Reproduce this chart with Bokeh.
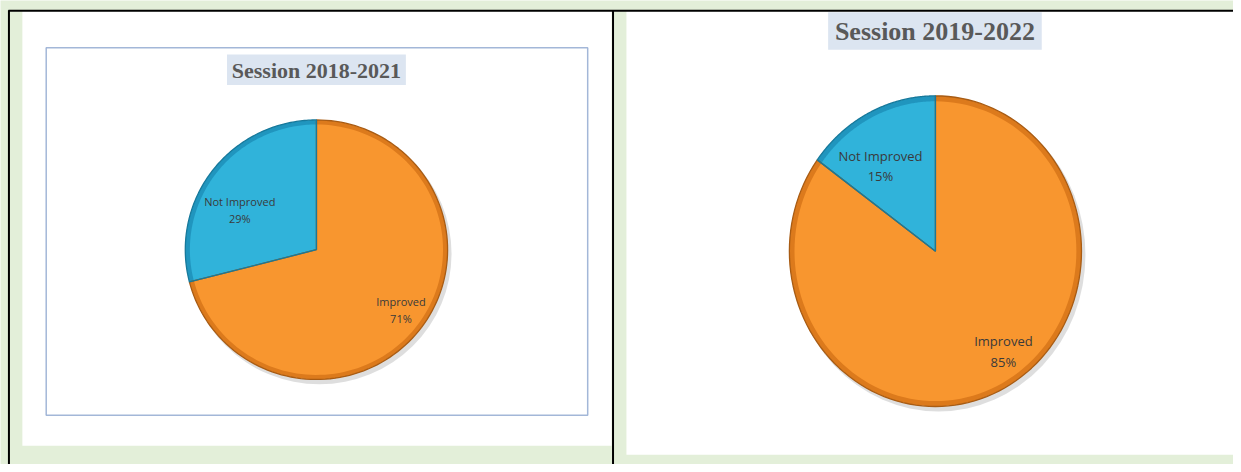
import numpy as np
from bokeh.plotting import figure
from bokeh.models import Range1d
from bokeh.core.properties import value
from bokeh.embed import file_html
from bokeh.resources import INLINE

# ---- data ----
categories = ["Improved", "Not Improved"]
titles = ["Session 2018-2021", "Session 2019-2022"]
values_2018 = [71, 29]
values_2019 = [85, 15]

# ---- layout: data units = reference pixels (x = px, y = 472 - py) ----
RW, RH = 1241, 472
GREEN = "#E3EFD9"
fills = ["#F8962F", "#30B3DA"]
rims = ["#DC7A1C", "#2095BE"]
edges = ["#A85C14", "#17799B"]

p = figure(width=1233, height=464, x_range=Range1d(0, RW), y_range=Range1d(0, RH),
           output_backend="svg", toolbar_location=None, min_border=0)
p.axis.visible = False
p.grid.visible = False
p.outline_line_color = None
p.background_fill_color = GREEN
p.border_fill_color = GREEN

# table cells
p.quad(left=[22, 630], right=[615, RW], bottom=[19, 10], top=[461, 461],
       fill_color="white", line_color=None)
# table lines
p.segment(x0=[8, 8.5, 616.5], y0=[461.5, 0, 0], x1=[RW, 8.5, 616.5], y1=[461.5, 462, 462],
          line_color="black", line_width=2)
# chart area border (left)
p.quad(left=[46], right=[591], bottom=[50], top=[424], fill_color=None,
       line_color="#A3B7D8", line_width=1.5)

charts = [
    dict(vals=values_2018, title=titles[0], cx=318, cy=218.5, rx=132, ry=132,
         tbox=(228, 408, 386, 417), ty=71, tsize="22px", lsize="11px",
         lab_r=[105, 87], lab_da=[1.9, 10.3]),
    dict(vals=values_2019, title=titles[1], cx=941, cy=217, rx=147, ry=158,
         tbox=(833, 1048, 422, 460), ty=31.5, tsize="26px", lsize="13px",
         lab_r=[123, 103], lab_da=[6.8, 5.5]),
]


def slice_xy(cx, cy, rx, ry, t0, t1, n=120):
    # t measured clockwise from 12 o'clock (radians)
    t = np.linspace(t0, t1, n)
    xs = np.concatenate([[cx], cx + rx * np.sin(t), [cx]])
    ys = np.concatenate([[cy], cy + ry * np.cos(t), [cy]])
    return list(xs), list(ys)


for c in charts:
    vals = np.array(c["vals"], dtype=float)
    frac = vals / vals.sum()
    t_start = np.concatenate([[0], np.cumsum(frac)[:-1]]) * 2 * np.pi
    t_end = np.cumsum(frac) * 2 * np.pi
    cx, cy, rx, ry = c["cx"], c["cy"], c["rx"], c["ry"]

    # shadow
    p.ellipse(x=[cx + 3], y=[cy - 4], width=2 * rx + 2, height=2 * ry + 2,
              fill_color="black", fill_alpha=0.13, line_color=None)

    # rim (darker) and body
    for scale, cols in [(1.0, rims), (0.965, fills)]:
        xs, ys = [], []
        for a, b in zip(t_start, t_end):
            sx, sy = slice_xy(cx, cy, rx * scale, ry * scale, a, b)
            xs.append(sx)
            ys.append(sy)
        p.patches(xs=xs, ys=ys, fill_color=cols, line_color=None)

    # outlines
    xs, ys = [], []
    for a, b in zip(t_start, t_end):
        sx, sy = slice_xy(cx, cy, rx, ry, a, b)
        xs.append(sx)
        ys.append(sy)
    p.patches(xs=xs, ys=ys, fill_color=None, line_color=edges, line_width=1.3)

    # labels
    mids = (t_start + t_end) / 2 - np.radians(c["lab_da"])
    lr = np.array(c["lab_r"])
    lx = cx + lr * np.sin(mids)
    ly = cy + lr * np.cos(mids)
    texts = [f"{cat}\n{int(v)}%" for cat, v in zip(categories, vals)]
    p.text(x=lx, y=ly, text=texts, text_align="center", text_baseline="middle",
           text_font=value("Open Sans"), text_font_size=c["lsize"],
           text_color="#3A3A3A", text_line_height=1.13)

    l, rgt, b, t = c["tbox"]
    p.quad(left=[l], right=[rgt], bottom=[b], top=[t], fill_color="#DCE5F1", line_color=None)
    p.text(x=[(l + rgt) / 2], y=[RH - c["ty"]], text=[c["title"]], text_align="center",
           text_baseline="middle", text_font=value("Liberation Serif"),
           text_font_style="bold", text_font_size=c["tsize"], text_color="#595959")

open("out.html", "w").write(file_html(p, INLINE))
